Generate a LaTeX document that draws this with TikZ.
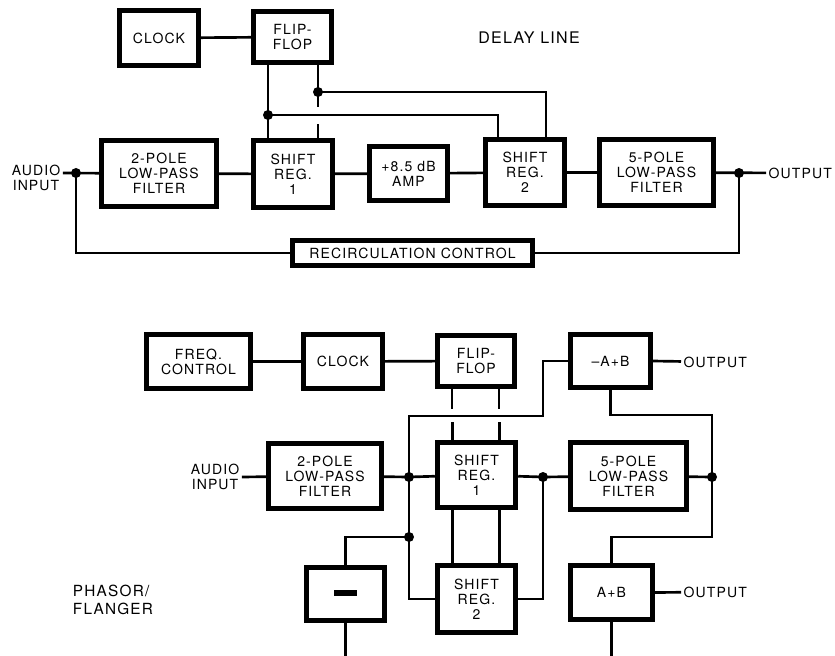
\documentclass[tikz,border=0pt]{standalone}
\usepackage{fontspec}
\setmainfont{TeX Gyre Heros}[LetterSpace=8]
\usetikzlibrary{calc,positioning}

\tikzset{
  blk/.style={draw, line width=3.6pt, inner sep=0pt, align=center, font=\fontsize{10.5}{11.25}\selectfont},
  reg/.style={blk, minimum width=59pt, minimum height=50pt},
  flt/.style={blk, minimum width=86pt, minimum height=49.5pt},
  sml/.style={blk, minimum width=59pt, minimum height=40.5pt},
  lbl/.style={inner sep=1pt, align=center, font=\fontsize{10.5}{11.25}\selectfont},
  jdot/.style={circle, fill, inner sep=0pt, minimum size=7.5pt}
}

\begin{document}
\begin{tikzpicture}[x=0.75pt, y=-0.75pt, line width=2pt]
\useasboundingbox (0,0) rectangle (835,656);
% Delay line
\node[lbl, font=\fontsize{12}{13}\selectfont] (dltitle) at (529,38) {DELAY LINE};
\node[sml, minimum height=41.4pt] (clkA) at (159,38) {CLOCK};
\node[sml, minimum height=38.4pt] (ffA) at (292.5,37) {FLIP-\\FLOP};
\node[flt] (lpfA) at (159,173.5) {2-POLE\\LOW-PASS\\FILTER};
\node[reg] (srA) at (293,174) {SHIFT\\REG.\\1};
\node[sml] (ampA) at (408.5,173.5) {+8.5 dB\\AMP};
\node[reg] (srB) at (525,172.5) {SHIFT\\REG.\\2};
\node[flt] (lpfB) at (656.5,172.5) {5-POLE\\LOW-PASS\\FILTER};
\node[blk, minimum width=180pt, minimum height=19pt] (rcA) at (412.5,253) {RECIRCULATION CONTROL};
\node[lbl] (aiA) at (36,178) {AUDIO\\INPUT};
\node[lbl, anchor=west] (outA) at (766,173) {OUTPUT};
\node[jdot] (jIn) at (76,173) {};
\node[jdot] (jOut) at (739,173) {};
\node[jdot] (jA) at (318,92) {};
\node[jdot] (jB) at (268,115) {};
% signal path
\draw (clkA) -- (ffA);
\draw (aiA.east |- jIn) -- (lpfA) -- (srA) -- (ampA) -- (srB) -- (lpfB) -- (outA);
\draw (jIn.center) |- (rcA.west);
\draw (rcA.east) -| (jOut.center);
% clock lines
\draw (ffA.south -| jB) -- (srA.north -| jB);
\draw (ffA.south -| jA) -- ($(jA)+(0,15)$);
\draw (srA.north -| jA) -- ++(0,-14);
\draw (jA.center) -| ($(srB.north)+(21,0)$);
\draw (jB.center) -| ($(srB.north)+(-27,0)$);

% Phasor / flanger
\node[lbl, font=\fontsize{11.5}{13}\selectfont, align=left] (pfl) at (113,600) {PHASOR/\\FLANGER};
\node[sml, minimum width=78pt] (fcB) at (198.5,361.5) {FREQ.\\CONTROL};
\node[sml] (clkB) at (343,361.5) {CLOCK};
\node[sml, minimum width=58pt, minimum height=38.4pt] (ffB) at (476,361) {FLIP-\\FLOP};
\node[sml, minimum width=60pt, minimum height=40pt] (nab) at (610.5,361) {--A+B};
\node[flt, minimum width=85pt, minimum height=49pt] (lpfC) at (325,476) {2-POLE\\LOW-PASS\\FILTER};
\node[reg, minimum height=49pt] (srC) at (476.5,475) {SHIFT\\REG.\\1};
\node[flt, minimum width=87pt, minimum height=50.4pt] (lpfD) at (628.5,476) {5-POLE\\LOW-PASS\\FILTER};
\node[sml, minimum height=40pt] (mns) at (345.5,594) {\rule[2pt]{17pt}{4.5pt}};
\node[reg, minimum height=50.4pt] (srD) at (476.5,599) {SHIFT\\REG.\\2};
\node[sml, minimum width=61.6pt] (apb) at (611.5,592.5) {A+B};
\node[lbl] (aiB) at (215,477) {AUDIO\\INPUT};
\node[lbl, anchor=west] (outB) at (681,362) {OUTPUT};
\node[lbl, anchor=west] (outC) at (681,592) {OUTPUT};
\node[jdot] (jL) at (409,477) {};
\node[jdot] (jL2) at (409,537) {};
\node[jdot] (jR) at (543,477) {};
\node[jdot] (jR2) at (712,477) {};
\coordinate (kA) at (543,416);
\coordinate (kC) at (712,415);
\coordinate (kD) at (712,537);
\coordinate (bot) at (0,656);
% signal path
\draw (fcB) -- (clkB) -- (ffB);
\draw (aiB.east |- jL) -- (lpfC) -- (jL.center) -- (srC) -- (jR.center) -- (lpfD) -- (jR2.center);
\draw (nab.west) -| (kA) -- (kA -| jL) |- (srD.west);
\draw (jL2.center) -| (mns.north);
\draw (jR.center) |- (srD.east);
\draw (nab.south) |- (kC) -- (kD) -| (apb.north);
\draw (nab.east) -- (outB);
\draw (apb.east) -- (outC);
\draw (mns.south) -- (mns.south |- bot);
\draw (apb.south) -- (apb.south |- bot);
% clock lines
\foreach \dx in {-24,23} {
  \draw ($(ffB.south)+(\dx,0)$) -- ++(0,20);
  \draw ($(srC.north)+(\dx,0)$) -- ++(0,-18);
  \draw ($(srC.south)+(\dx,0)$) -- ($(srD.north)+(\dx,0)$);
}
\end{tikzpicture}
\end{document}
